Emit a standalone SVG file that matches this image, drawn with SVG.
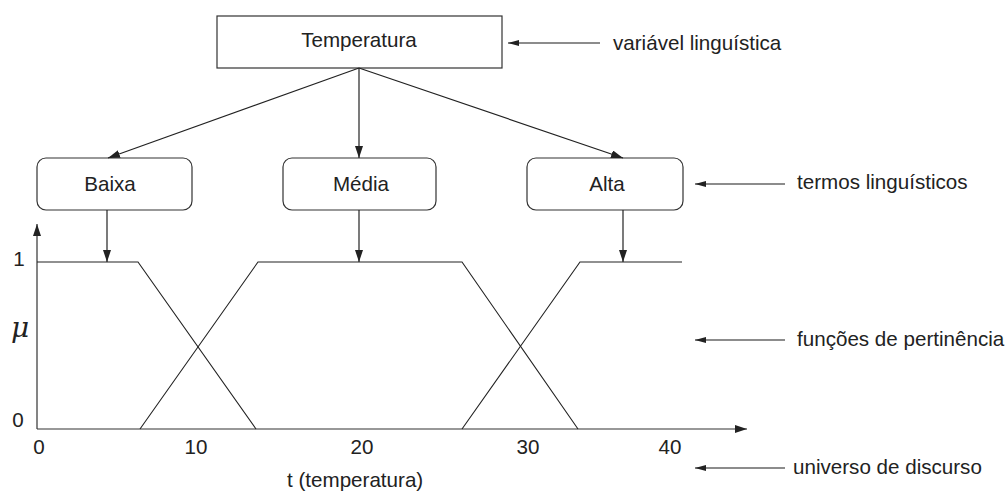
<svg xmlns="http://www.w3.org/2000/svg" width="1007" height="495" viewBox="0 0 1007 495">
  <style>
    text { font-family: "Liberation Sans", Arial, sans-serif; font-size: 20.6px; fill: #222; }
    text.mu { font-family: "DejaVu Serif", "Liberation Serif", serif; font-style: italic; font-size: 28px; }
    .box { fill: #fff; stroke: #333; stroke-width: 1.2; }
    .edge { stroke: #222; stroke-width: 1.2; fill: none; }
    .note { stroke: #666; stroke-width: 1.4; fill: none; }
    .axis { stroke: #333; stroke-width: 1.2; fill: none; }
    .yaxis { stroke: #777; stroke-width: 1.8; fill: none; }
    .mf { stroke: #222; stroke-width: 1.1; fill: none; }
  </style>
  <defs>
    <marker id="head" viewBox="0 0 12 8" refX="12" refY="4" markerWidth="12" markerHeight="8" markerUnits="userSpaceOnUse" orient="auto">
      <path d="M0,0 L12,4 L0,8 Z" fill="#222"/>
    </marker>
    <marker id="small" viewBox="0 0 11 6" refX="11" refY="3" markerWidth="11" markerHeight="6" markerUnits="userSpaceOnUse" orient="auto">
      <path d="M0,0 L11,3 L0,6 Z" fill="#222"/>
    </marker>
  </defs>

  <!-- linguistic variable -->
  <g id="temperatura">
    <rect class="box" x="217" y="16" width="285" height="52"/>
    <text x="359" y="47" text-anchor="middle">Temperatura</text>
  </g>

  <!-- linguistic terms -->
  <g id="baixa">
    <rect class="box" x="37" y="158" width="155" height="52" rx="9"/>
    <text x="110" y="191" text-anchor="middle">Baixa</text>
  </g>
  <g id="media">
    <rect class="box" x="283" y="158" width="153" height="52" rx="9"/>
    <text x="361" y="191" text-anchor="middle">Média</text>
  </g>
  <g id="alta">
    <rect class="box" x="527" y="158" width="156" height="52" rx="9"/>
    <text x="607" y="191" text-anchor="middle">Alta</text>
  </g>

  <!-- connectors -->
  <g id="connectors">
    <line class="edge" x1="359" y1="68" x2="108" y2="158" marker-end="url(#head)"/>
    <line class="edge" x1="359" y1="68" x2="359" y2="158" marker-end="url(#head)"/>
    <line class="edge" x1="359" y1="68" x2="623" y2="158" marker-end="url(#head)"/>
    <line class="edge" x1="107" y1="210" x2="107" y2="262" marker-end="url(#head)"/>
    <line class="edge" x1="359" y1="210" x2="359" y2="262" marker-end="url(#head)"/>
    <line class="edge" x1="623" y1="210" x2="623" y2="262" marker-end="url(#head)"/>
  </g>

  <!-- axes -->
  <g id="axes">
    <line class="yaxis" x1="37" y1="429" x2="37" y2="224" marker-end="url(#head)"/>
    <line class="axis" x1="37" y1="429" x2="747" y2="429" marker-end="url(#head)"/>
    <text x="19" y="266" text-anchor="middle">1</text>
    <text x="18" y="427" text-anchor="middle">0</text>
    <text class="mu" x="20" y="337" text-anchor="middle">μ</text>
    <text x="39" y="454" text-anchor="middle">0</text>
    <text x="196" y="454" text-anchor="middle">10</text>
    <text x="362" y="454" text-anchor="middle">20</text>
    <text x="528" y="454" text-anchor="middle">30</text>
    <text x="670" y="454" text-anchor="middle">40</text>
    <text x="287" y="487">t (temperatura)</text>
  </g>

  <!-- membership functions -->
  <g id="membership">
    <polyline class="mf" points="37,262 138,262 256,429"/>
    <polyline class="mf" points="140,429 258,262 462,262 578,429"/>
    <polyline class="mf" points="462,429 580,262 682,262"/>
  </g>

  <!-- annotations -->
  <g id="notes">
    <line class="note" x1="600" y1="43" x2="508" y2="43" marker-end="url(#small)"/>
    <text x="613" y="50">variável linguística</text>
    <line class="note" x1="785" y1="184" x2="695" y2="184" marker-end="url(#small)"/>
    <text x="797" y="189">termos linguísticos</text>
    <line class="note" x1="785" y1="340" x2="695" y2="340" marker-end="url(#small)"/>
    <text x="797" y="346">funções de pertinência</text>
    <line class="note" x1="785" y1="468" x2="695" y2="468" marker-end="url(#small)"/>
    <text x="793" y="474">universo de discurso</text>
  </g>
</svg>
